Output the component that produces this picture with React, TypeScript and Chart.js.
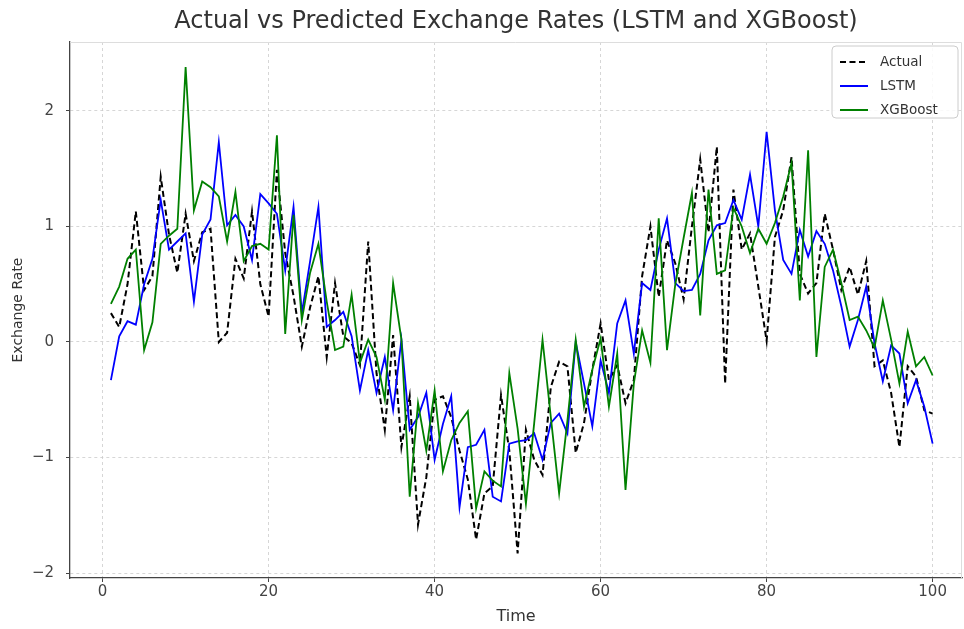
import React, { useEffect, useRef } from 'react';
import { Chart, registerables } from 'chart.js';
Chart.register(...registerables);

const FONT = "'DejaVu Sans', sans-serif";
const TITLE = 'Actual vs Predicted Exchange Rates (LSTM and XGBoost)';
const X_LABEL = 'Time';
const Y_LABEL = 'Exchange Rate';
const X_TICKS = [0, 20, 40, 60, 80, 100];
const Y_TICKS = [-2, -1, 0, 1, 2];

const timeSteps = [
  1, 2, 3, 4, 5, 6, 7, 8, 9, 10, 11, 12, 13, 14, 15, 16, 17, 18, 19, 20,
  21, 22, 23, 24, 25, 26, 27, 28, 29, 30, 31, 32, 33, 34, 35, 36, 37, 38, 39, 40,
  41, 42, 43, 44, 45, 46, 47, 48, 49, 50, 51, 52, 53, 54, 55, 56, 57, 58, 59, 60,
  61, 62, 63, 64, 65, 66, 67, 68, 69, 70, 71, 72, 73, 74, 75, 76, 77, 78, 79, 80,
  81, 82, 83, 84, 85, 86, 87, 88, 89, 90, 91, 92, 93, 94, 95, 96, 97, 98, 99, 100,
];

const actual = [
  0.25, 0.13, 0.5, 1.13, 0.45, 0.57, 1.43, 0.93, 0.6, 1.11,
  0.7, 0.95, 0.98, 0.0, 0.08, 0.72, 0.55, 1.13, 0.5, 0.22,
  1.49, 0.77, 0.4, -0.04, 0.3, 0.57, -0.13, 0.51, 0.05, -0.01,
  -0.2, 0.87, -0.27, -0.76, 0.06, -0.91, -0.47, -1.58, -1.17, -0.5,
  -0.47, -0.65, -0.94, -1.19, -1.71, -1.31, -1.25, -0.46, -0.94, -1.83,
  -0.76, -1.02, -1.15, -0.39, -0.17, -0.21, -0.96, -0.7, -0.24, 0.16,
  -0.33, -0.2, -0.53, -0.33, 0.57, 1.0, 0.39, 0.88, 0.68, 0.37,
  1.0, 1.58, 0.95, 1.69, -0.36, 1.32, 0.8, 0.94, 0.48, 0.01,
  0.91, 1.14, 1.6, 0.59, 0.42, 0.51, 1.11, 0.8, 0.45, 0.65,
  0.41, 0.7, -0.21, -0.16, -0.44, -0.91, -0.21, -0.3, -0.59, -0.62,
];

const lstm = [
  -0.33, 0.05, 0.18, 0.15, 0.5, 0.72, 1.23, 0.8, 0.87, 0.94,
  0.35, 0.93, 1.06, 1.73, 1.01, 1.1, 1.0, 0.71, 1.28, 1.2,
  1.11, 0.62, 1.17, 0.25, 0.7, 1.17, 0.13, 0.19, 0.26, 0.05,
  -0.42, -0.07, -0.44, -0.13, -0.59, 0.02, -0.76, -0.65, -0.44, -1.02,
  -0.71, -0.47, -1.43, -0.91, -0.89, -0.76, -1.34, -1.38, -0.88, -0.86,
  -0.85, -0.79, -1.02, -0.7, -0.62, -0.79, 0.0, -0.36, -0.73, -0.16,
  -0.44, 0.16, 0.36, -0.1, 0.51, 0.45, 0.8, 1.07, 0.51, 0.44,
  0.45, 0.59, 0.88, 1.01, 1.03, 1.23, 1.06, 1.45, 1.0, 1.82,
  1.14, 0.71, 0.59, 0.97, 0.74, 0.96, 0.85, 0.62, 0.31, -0.04,
  0.19, 0.48, -0.01, -0.34, -0.03, -0.1, -0.53, -0.33, -0.56, -0.88,
];

const xgboost = [
  0.33, 0.48, 0.72, 0.8, -0.07, 0.17, 0.85, 0.92, 0.98, 2.38,
  1.14, 1.39, 1.34, 1.26, 0.87, 1.3, 0.7, 0.83, 0.85, 0.8,
  1.79, 0.07, 1.1, 0.19, 0.6, 0.85, 0.35, -0.07, -0.04, 0.41,
  -0.18, 0.02, -0.13, -0.5, 0.51, 0.02, -1.34, -0.53, -0.94, -0.42,
  -1.12, -0.85, -0.7, -0.6, -1.44, -1.12, -1.2, -1.25, -0.27, -0.75,
  -1.4, -0.7, 0.02, -0.65, -1.31, -0.68, 0.02, -0.56, -0.24, 0.03,
  -0.56, -0.1, -1.28, -0.36, 0.1, -0.18, 1.07, -0.07, 0.5, 0.9,
  1.29, 0.23, 1.32, 0.59, 0.62, 1.16, 1.0, 0.77, 0.98, 0.85,
  1.03, 1.26, 1.55, 0.36, 1.66, -0.13, 0.65, 0.8, 0.51, 0.19,
  0.22, 0.1, -0.05, 0.36, 0.02, -0.36, 0.09, -0.21, -0.13, -0.29,
];

const seriesNames = ['Actual', 'LSTM', 'XGBoost'];
const seriesColors = ['#000000', '#0000ff', '#008000'];
const ACTUAL_DASH = [6, 3.5];

const fmt = (v: number) => (v < 0 ? '\u2212' + Math.abs(v) : String(v));

const titlePlugin = {
  id: 'customTitle',
  afterDraw(chart: any) {
    const { ctx, chartArea } = chart;
    ctx.save();
    ctx.font = `24px ${FONT}`;
    ctx.fillStyle = '#333333';
    ctx.textAlign = 'center';
    ctx.textBaseline = 'middle';
    ctx.fillText(TITLE, (chartArea.left + chartArea.right) / 2, 22);
    ctx.restore();
  },
};

const framePlugin = {
  id: 'frame',
  afterDraw(chart: any) {
    const { ctx, chartArea: a } = chart;
    ctx.save();
    ctx.strokeStyle = '#dddddd';
    ctx.lineWidth = 1;
    ctx.beginPath();
    ctx.moveTo(a.left, a.top + 0.5);
    ctx.lineTo(a.right - 0.5, a.top + 0.5);
    ctx.lineTo(a.right - 0.5, a.bottom);
    ctx.stroke();
    ctx.restore();
  },
};

const legendPlugin = {
  id: 'insideLegend',
  afterDraw(chart: any) {
    const { ctx, chartArea: a } = chart;
    const w = 126;
    const h = 72;
    const x = a.right - w - 4;
    const y = a.top + 4;
    ctx.save();
    ctx.fillStyle = 'rgba(255,255,255,0.85)';
    ctx.strokeStyle = '#cccccc';
    ctx.lineWidth = 1;
    ctx.beginPath();
    const r = 4;
    ctx.moveTo(x + r, y);
    ctx.lineTo(x + w - r, y);
    ctx.quadraticCurveTo(x + w, y, x + w, y + r);
    ctx.lineTo(x + w, y + h - r);
    ctx.quadraticCurveTo(x + w, y + h, x + w - r, y + h);
    ctx.lineTo(x + r, y + h);
    ctx.quadraticCurveTo(x, y + h, x, y + h - r);
    ctx.lineTo(x, y + r);
    ctx.quadraticCurveTo(x, y, x + r, y);
    ctx.closePath();
    ctx.fill();
    ctx.stroke();
    ctx.font = `13.5px ${FONT}`;
    ctx.textBaseline = 'middle';
    ctx.textAlign = 'left';
    seriesNames.forEach((name, i) => {
      const yy = y + 16 + i * 24;
      ctx.strokeStyle = seriesColors[i];
      ctx.lineWidth = 2;
      ctx.setLineDash(i === 0 ? ACTUAL_DASH : []);
      ctx.beginPath();
      ctx.moveTo(x + 8, yy);
      ctx.lineTo(x + 36, yy);
      ctx.stroke();
      ctx.setLineDash([]);
      ctx.fillStyle = '#333333';
      ctx.fillText(name, x + 48, yy);
    });
    ctx.restore();
  },
};

export default function App() {
  const ref = useRef<HTMLCanvasElement | null>(null);
  useEffect(() => {
    document.body.style.margin = '0';
    const canvas = ref.current;
    if (!canvas) return;
    const mk = (vals: number[]) => timeSteps.map((t, i) => ({ x: t, y: vals[i] }));
    const chart = new Chart(canvas, {
      type: 'line',
      data: {
        datasets: [
          { label: seriesNames[2], data: mk(xgboost), borderColor: seriesColors[2], borderWidth: 1.8, pointRadius: 0, tension: 0, fill: false },
          { label: seriesNames[1], data: mk(lstm), borderColor: seriesColors[1], borderWidth: 1.8, pointRadius: 0, tension: 0, fill: false },
          { label: seriesNames[0], data: mk(actual), borderColor: seriesColors[0], borderWidth: 2, borderDash: ACTUAL_DASH, pointRadius: 0, tension: 0, fill: false },
        ],
      },
      options: {
        responsive: false,
        animation: false,
        layout: { padding: { top: 42, right: 2, left: 0, bottom: 0 } },
        plugins: { legend: { display: false }, title: { display: false }, tooltip: { enabled: false } },
        scales: {
          x: {
            type: 'linear',
            min: -3.93,
            max: 103.54,
            afterBuildTicks: (s: any) => { s.ticks = X_TICKS.map((v) => ({ value: v })); },
            afterFit: (s: any) => { s.height = 51; },
            grid: { color: '#cccccc', lineWidth: 0.8, tickLength: 4, tickColor: '#444444', tickWidth: 1 },
            border: { display: true, color: '#444444', width: 1.3, dash: [3, 3] },
            ticks: { font: { family: FONT, size: 15 }, color: '#444444', padding: 1, maxRotation: 0, callback: (v: any) => fmt(Number(v)) },
            title: { display: true, text: X_LABEL, font: { family: FONT, size: 16 }, color: '#333333', padding: { top: 0, bottom: 3 } },
          },
          y: {
            type: 'linear',
            min: -2.043,
            max: 2.597,
            afterBuildTicks: (s: any) => { s.ticks = Y_TICKS.map((v) => ({ value: v })); },
            afterFit: (s: any) => { s.width = 70; },
            grid: { color: '#cccccc', lineWidth: 0.8, tickLength: 4, tickColor: '#444444', tickWidth: 1 },
            border: { display: true, color: '#444444', width: 1.3, dash: [3, 3] },
            ticks: { font: { family: FONT, size: 15 }, color: '#444444', padding: 12, callback: (v: any) => fmt(Number(v)) },
            title: { display: true, text: Y_LABEL, font: { family: FONT, size: 14 }, color: '#333333', padding: { top: 10, bottom: 0 } },
          },
        },
      },
      plugins: [framePlugin, titlePlugin, legendPlugin],
    });
    return () => chart.destroy();
  }, []);
  return (
    <div style={{ width: 964, height: 629, background: '#ffffff' }}>
      <canvas ref={ref} width={964} height={629} style={{ display: 'block' }} />
    </div>
  );
}
